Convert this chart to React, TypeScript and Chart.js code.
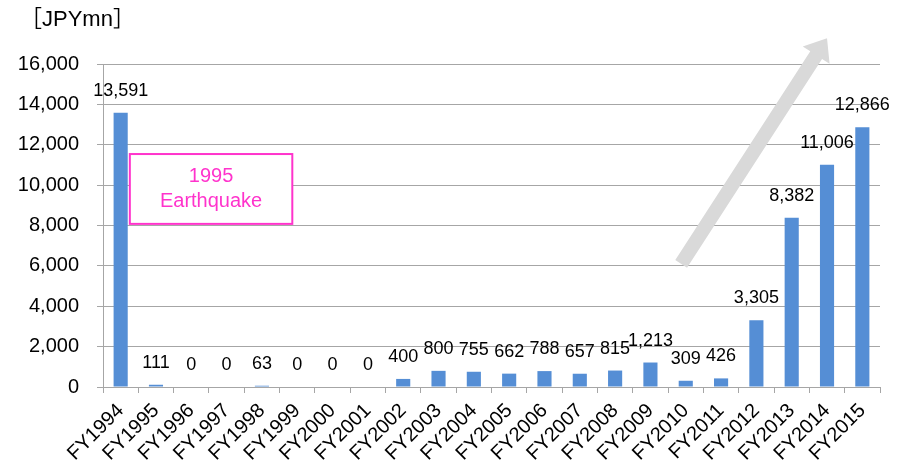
import React, { useEffect, useRef } from "react";
import { Chart, registerables } from "chart.js";

Chart.register(...registerables);

const categories = [
  "FY1994", "FY1995", "FY1996", "FY1997", "FY1998", "FY1999", "FY2000", "FY2001",
  "FY2002", "FY2003", "FY2004", "FY2005", "FY2006", "FY2007", "FY2008", "FY2009",
  "FY2010", "FY2011", "FY2012", "FY2013", "FY2014", "FY2015",
];
const values = [
  13591, 111, 0, 0, 63, 0, 0, 0, 400, 800, 755, 662, 788, 657, 815, 1213, 309, 426,
  3305, 8382, 11006, 12866,
];
const yTicks = { min: 0, max: 16000, step: 2000 };
const unitLabel = "［JPYmn］";
const noteLines = ["1995", "Earthquake"];
// annotation anchors in data space: [categoryIndex, value]
const noteBox = { from: [0.26, 11540], to: [4.86, 8080] };
const trendArrow = { from: [15.87, 6100], to: [20.0, 17270] };

const FONT = '"Liberation Sans", Arial, "Noto Sans CJK JP", sans-serif';
const GRID = "#a6a6a6";
const BAR = "#558ed5";
const MAGENTA = "#ff33cc";

const overlayPlugin = {
  id: "overlay",
  afterDatasetsDraw(chart: any) {
    const ctx = chart.ctx as CanvasRenderingContext2D;
    const xs = chart.scales.x;
    const ys = chart.scales.y;
    const px = (i: number) => xs.getPixelForValue(0) + i * (xs.getPixelForValue(1) - xs.getPixelForValue(0));
    ctx.save();
    // data labels
    const meta = chart.getDatasetMeta(0);
    ctx.font = `18px ${FONT}`;
    ctx.fillStyle = "#000";
    ctx.textAlign = "center";
    ctx.textBaseline = "alphabetic";
    meta.data.forEach((el: any, i: number) => {
      ctx.fillText(values[i].toLocaleString("en-US"), el.x, el.y - 17);
    });
    // note box
    const bx1 = px(noteBox.from[0]);
    const by1 = ys.getPixelForValue(noteBox.from[1]);
    const bx2 = px(noteBox.to[0]);
    const by2 = ys.getPixelForValue(noteBox.to[1]);
    ctx.fillStyle = "#fff";
    ctx.fillRect(bx1, by1, bx2 - bx1, by2 - by1);
    ctx.strokeStyle = MAGENTA;
    ctx.lineWidth = 2;
    ctx.strokeRect(bx1, by1, bx2 - bx1, by2 - by1);
    ctx.fillStyle = MAGENTA;
    ctx.font = `20px ${FONT}`;
    ctx.textBaseline = "middle";
    const cx = (bx1 + bx2) / 2;
    const cy = (by1 + by2) / 2;
    ctx.fillText(noteLines[0], cx, cy - 12);
    ctx.fillText(noteLines[1], cx, cy + 13);
    // arrow
    const ax1 = px(trendArrow.from[0]);
    const ay1 = ys.getPixelForValue(trendArrow.from[1]);
    const ax2 = px(trendArrow.to[0]);
    const ay2 = ys.getPixelForValue(trendArrow.to[1]);
    const dx = ax2 - ax1;
    const dy = ay2 - ay1;
    const len = Math.hypot(dx, dy);
    const ux = dx / len, uy = dy / len;
    const nx = -uy, ny = ux;
    const shaftW = 14, headL = 20, headW = 32;
    const bxh = ax2 - ux * headL, byh = ay2 - uy * headL;
    ctx.fillStyle = "#d9d9d9";
    ctx.beginPath();
    ctx.moveTo(ax1 + nx * shaftW / 2, ay1 + ny * shaftW / 2);
    ctx.lineTo(bxh + nx * shaftW / 2, byh + ny * shaftW / 2);
    ctx.lineTo(bxh + nx * headW / 2, byh + ny * headW / 2);
    ctx.lineTo(ax2, ay2);
    ctx.lineTo(bxh - nx * headW / 2, byh - ny * headW / 2);
    ctx.lineTo(bxh - nx * shaftW / 2, byh - ny * shaftW / 2);
    ctx.lineTo(ax1 - nx * shaftW / 2, ay1 - ny * shaftW / 2);
    ctx.closePath();
    ctx.fill();
    // unit label
    ctx.fillStyle = "#000";
    ctx.font = `22px ${FONT}`;
    ctx.textAlign = "left";
    ctx.textBaseline = "alphabetic";
    ctx.fillText(unitLabel, 20, 26);
    ctx.restore();
  },
};

export default function App() {
  const ref = useRef<HTMLCanvasElement | null>(null);
  useEffect(() => {
    if (!ref.current) return;
    const chart = new Chart(ref.current, {
      type: "bar",
      data: {
        labels: categories,
        datasets: [
          {
            data: values,
            backgroundColor: BAR,
            barPercentage: 0.4,
            categoryPercentage: 1,
          },
        ],
      },
      options: {
        animation: false,
        responsive: false,
        layout: { padding: { top: 64, right: 27, left: 0, bottom: 0 } },
        plugins: { legend: { display: false }, tooltip: { enabled: false } },
        scales: {
          x: {
            afterFit: (s: any) => { s.height = 82; },
            grid: { display: true, drawOnChartArea: false, offset: true, tickLength: 6, color: GRID },
            border: { display: true, color: GRID },
            ticks: {
              minRotation: 45,
              maxRotation: 45,
              autoSkip: false,
              padding: 6,
              color: "#000",
              font: { family: FONT, size: 20 },
            },
          },
          y: {
            min: yTicks.min,
            max: yTicks.max,
            afterFit: (s: any) => { s.width = 103; },
            grid: { color: GRID, tickLength: 6 },
            border: { display: true, color: GRID },
            ticks: {
              stepSize: yTicks.step,
              padding: 18,
              color: "#000",
              font: { family: FONT, size: 20 },
              callback: (v: any) => Number(v).toLocaleString("en-US"),
            },
          },
        },
      },
      plugins: [overlayPlugin],
    });
    return () => chart.destroy();
  }, []);
  return (
    <div style={{ position: "fixed", left: 0, top: 0, width: 907, height: 469, background: "#fff" }}>
      <canvas ref={ref} width={907} height={469} />
    </div>
  );
}
